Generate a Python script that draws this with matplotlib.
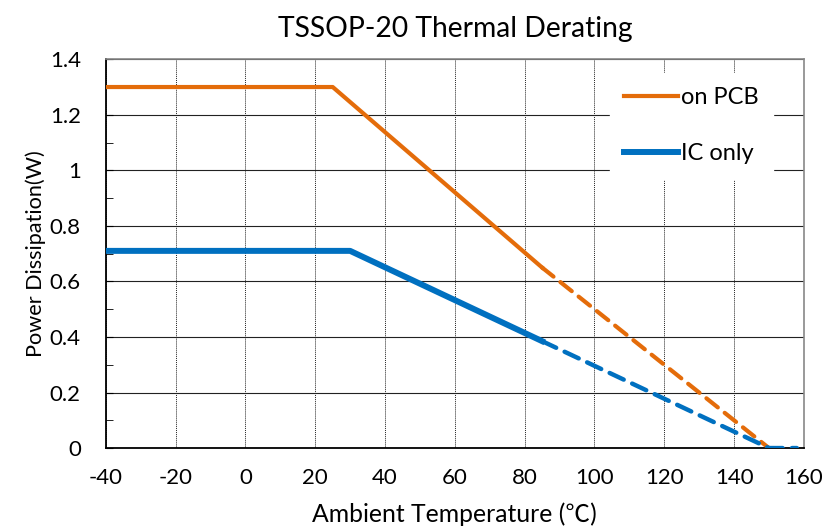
import matplotlib.pyplot as plt
from matplotlib.ticker import MultipleLocator

# data
pcb_temp = [-40, 25, 85]
pcb_power = [1.3, 1.3, 0.65]
pcb_temp_ext = [85, 150, 152]
pcb_power_ext = [0.65, 0.0, 0.0]

ic_temp = [-40, 30, 85]
ic_power = [0.71, 0.71, 0.385]
ic_temp_ext = [85, 150, 158]
ic_power_ext = [0.385, 0.0, 0.0]

orange = '#E46C0A'
blue = '#0070C0'

plt.rcParams['font.family'] = ['Lato', 'Noto Sans CJK JP', 'DejaVu Sans']
plt.rcParams['axes.unicode_minus'] = False

fig = plt.figure(figsize=(8.27, 5.29), dpi=100)
ax = fig.add_axes([0.128, 0.153, 0.844, 0.735])

ax.plot(pcb_temp, pcb_power, color=orange, lw=3.0, label='on PCB', zorder=3)
ax.plot(pcb_temp_ext, pcb_power_ext, color=orange, lw=3.0, ls=(0, (3.5, 2.1)),
        dash_capstyle='round', zorder=3)
ax.plot(ic_temp, ic_power, color=blue, lw=4.3, label='IC only', zorder=3)
ax.plot(ic_temp_ext, ic_power_ext, color=blue, lw=3.2, ls=(0, (3.5, 2.1)),
        dash_capstyle='round', zorder=3)

ax.set_xlim(-40, 160)
ax.set_ylim(0, 1.4)
ax.xaxis.set_major_locator(MultipleLocator(20))
ax.yaxis.set_minor_locator(MultipleLocator(0.1))
ax.set_yticks([0, 0.2, 0.4, 0.6, 0.8, 1.0, 1.2, 1.4])
ax.set_yticklabels(['0', '0.2', '0.4', '0.6', '0.8', '1', '1.2', '1.4'])

ax.grid(axis='y', which='major', color='#222222', lw=0.8, ls='-')
ax.grid(axis='x', which='major', color='#222222', lw=0.7, ls=(0, (1, 1)))
ax.set_axisbelow(True)

ax.tick_params(axis='x', which='both', length=0, labelsize=16, pad=14)
ax.tick_params(axis='y', which='both', direction='in', length=5,
               labelsize=16, pad=18)

for s in ['left', 'bottom']:
    ax.spines[s].set_color('black')
    ax.spines[s].set_linewidth(1.3)
for s in ['top', 'right']:
    ax.spines[s].set_color('#888888')
    ax.spines[s].set_linewidth(1.2)

ax.set_title('TSSOP-20 Thermal Derating', fontsize=20.3, pad=16)
ax.set_xlabel('Ambient Temperature (\u2103)', fontsize=17.8, labelpad=11)
ax.set_ylabel('Power Dissipation(W)', fontsize=15.6, labelpad=3)

leg = ax.legend(loc='upper left', bbox_to_anchor=(0.722, 0.965), fontsize=17,
                frameon=True, fancybox=False, handlelength=2.3,
                handletextpad=0.13, labelspacing=1.5, borderpad=0.6,
                borderaxespad=0)
leg.get_frame().set_edgecolor('white')
leg.get_frame().set_facecolor('white')
leg.get_frame().set_alpha(1)

plt.savefig('out.png', dpi=100)
